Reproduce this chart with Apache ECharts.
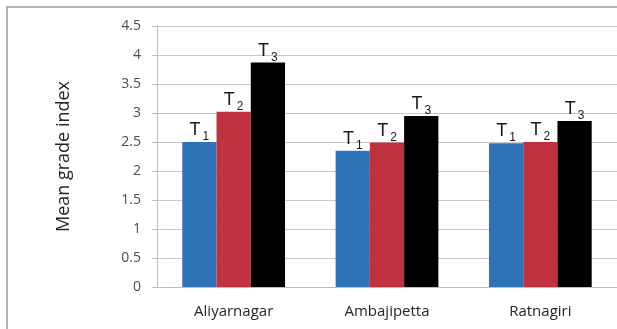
<!DOCTYPE html>
<html>
<head>
<meta charset="utf-8">
<script src="https://cdn.jsdelivr.net/npm/echarts@6/dist/echarts.min.js"></script>
<style>
  html, body { margin: 0; padding: 0; background: #fff; }
  #chart { width: 617px; height: 329px; }
</style>
</head>
<body>
<div id="chart"></div>
<script>
// Sites along the category axis
const sites = ['Aliyarnagar', 'Ambajipetta', 'Ratnagiri'];
// Mean grade index per treatment
const t1Values = [2.50, 2.35, 2.48];
const t2Values = [3.02, 2.49, 2.50];
const t3Values = [3.87, 2.95, 2.86];
// Treatment subscripts used in the bar labels
const treatments = ['1', '2', '3'];
const yTicks = [0, 0.5, 1, 1.5, 2, 2.5, 3, 3.5, 4, 4.5];

const FONT = '"Open Sans", "Noto Sans", sans-serif';
const colors = ['#2e73b6', '#c0323e', '#000000'];

function bar(values, idx) {
  return {
    type: 'bar',
    name: 'T' + treatments[idx],
    data: values,
    barGap: '0%',
    barCategoryGap: '33%',
    itemStyle: { color: colors[idx] },
    label: {
      show: true,
      position: 'top',
      distance: 1,
      formatter: '{t|T}{s|' + treatments[idx] + '}',
      rich: {
        t: { fontFamily: 'Arial, "Liberation Sans", sans-serif', fontSize: 18, color: '#1a1a1a', lineHeight: 22 },
        s: { fontFamily: 'Arial, "Liberation Sans", sans-serif', fontSize: 12, color: '#1a1a1a', padding: [14, 0, 0, 2], lineHeight: 22 }
      }
    }
  };
}

const chart = echarts.init(document.getElementById('chart'), null, { renderer: 'canvas' });
chart.setOption({
  animation: false,
  backgroundColor: '#fff',
  graphic: [{
    type: 'rect',
    shape: { x: 7, y: 7, width: 700, height: 400 },
    style: { fill: 'none', stroke: '#9a9a9a', lineWidth: 1.5 },
    silent: true
  }],
  grid: { left: 157, right: -5, top: 26, bottom: 42 },
  xAxis: {
    type: 'category',
    data: sites,
    axisLine: { show: true, lineStyle: { color: '#bdbdbd' } },
    axisTick: { show: false },
    axisLabel: { fontFamily: FONT, fontSize: 15, color: '#262626', margin: 17 }
  },
  yAxis: {
    type: 'value',
    min: yTicks[0],
    max: yTicks[yTicks.length - 1],
    interval: 0.5,
    name: 'Mean grade index',
    nameLocation: 'middle',
    nameGap: 84,
    nameTextStyle: { fontFamily: FONT, fontSize: 18, color: '#262626' },
    axisLine: { show: true, lineStyle: { color: '#bdbdbd' } },
    axisTick: { show: true, length: 5, lineStyle: { color: '#bdbdbd' } },
    axisLabel: { fontFamily: FONT, fontSize: 14, color: '#4d4d4d', margin: 16 },
    splitLine: { show: true, lineStyle: { color: '#c8c8c8', width: 1 } }
  },
  series: [bar(t1Values, 0), bar(t2Values, 1), bar(t3Values, 2)]
});
</script>
</body>
</html>
